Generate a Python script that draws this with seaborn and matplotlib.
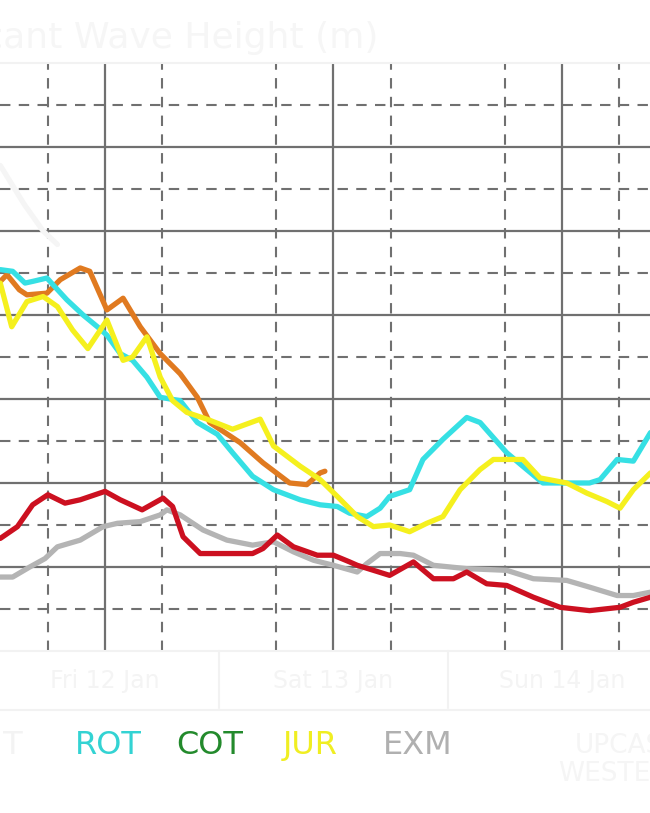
import numpy as np
import pandas as pd
import matplotlib
matplotlib.use("Agg")
import matplotlib.pyplot as plt
from matplotlib.lines import Line2D
import seaborn as sns

# hours relative to 12Z of the first visible day, wave height in metres
red_t = [-11.0, -9.2, -7.6, -6.0, -4.2, -2.6, 0.0, 1.6, 3.9, 6.1, 7.1, 8.2, 10.0, 13.4, 15.5, 16.6,
         18.1, 19.8, 22.3, 24.0, 25.7, 26.5, 29.9, 32.4, 34.5, 36.6, 38.0, 40.1, 42.2, 45.0, 47.8,
         50.9, 54.1, 55.5, 57.3]
red_h = [0.67, 0.74, 0.87, 0.93, 0.88, 0.90, 0.95, 0.90, 0.84, 0.91, 0.86, 0.68, 0.58, 0.58, 0.58, 0.61,
         0.69, 0.62, 0.57, 0.57, 0.53, 0.51, 0.45, 0.53, 0.43, 0.43, 0.47, 0.40, 0.39, 0.32, 0.26,
         0.24, 0.26, 0.29, 0.32]

gray_t = [-11.0, -9.7, -7.9, -6.3, -5.0, -2.6, -0.2, 1.3, 3.7, 5.8, 6.5, 7.9, 10.3, 12.8, 15.5, 17.7,
          19.8, 21.9, 24.0, 26.5, 27.5, 28.9, 31.0, 32.4, 34.5, 38.0, 42.2, 45.0, 48.5, 50.9, 53.8,
          55.5, 57.3]
gray_h = [0.44, 0.44, 0.50, 0.55, 0.62, 0.66, 0.74, 0.76, 0.77, 0.81, 0.84, 0.81, 0.72, 0.66, 0.63, 0.65,
          0.59, 0.54, 0.51, 0.47, 0.52, 0.58, 0.58, 0.57, 0.51, 0.49, 0.48, 0.43, 0.42, 0.38, 0.33,
          0.33, 0.35]

cyan_t = [-11.0, -9.7, -8.4, -7.6, -6.1, -5.3, -4.0, -2.3, -0.8, 0.2, 1.6, 2.9, 4.4, 5.8, 7.9, 9.7,
          11.8, 13.4, 15.5, 17.7, 20.5, 22.6, 24.4, 25.7, 27.5, 28.9, 29.9, 32.0, 33.4, 35.5, 38.0,
          39.4, 40.8, 42.2, 44.3, 46.0, 48.5, 50.9, 52.0, 53.8, 55.5, 57.3]
cyan_h = [2.27, 2.26, 2.19, 2.20, 2.22, 2.17, 2.09, 2.00, 1.93, 1.88, 1.77, 1.73, 1.63, 1.51, 1.49, 1.36,
          1.29, 1.18, 1.04, 0.96, 0.90, 0.87, 0.86, 0.82, 0.80, 0.85, 0.92, 0.96, 1.14, 1.26, 1.39,
          1.36, 1.27, 1.18, 1.08, 1.00, 1.00, 1.00, 1.02, 1.14, 1.13, 1.30]

yellow_t = [-11.0, -9.8, -8.2, -6.5, -5.0, -3.4, -1.8, -0.5, 0.2, 1.9, 2.9, 4.4, 5.8, 7.1, 8.6, 10.7,
            13.4, 16.3, 17.7, 20.5, 22.6, 24.4, 26.5, 28.2, 29.9, 32.0, 33.8, 35.5, 37.3, 39.4, 40.8,
            42.2, 43.9, 45.7, 48.5, 50.6, 52.7, 54.1, 55.5, 57.3]
yellow_h = [2.19, 1.93, 2.08, 2.11, 2.05, 1.91, 1.80, 1.91, 1.97, 1.73, 1.75, 1.87, 1.63, 1.49, 1.42, 1.38,
            1.32, 1.38, 1.22, 1.10, 1.02, 0.92, 0.80, 0.74, 0.75, 0.71, 0.76, 0.80, 0.96, 1.08, 1.14,
            1.14, 1.14, 1.03, 1.00, 0.94, 0.89, 0.85, 0.96, 1.06]

orange_t = [-11.0, -10.3, -9.0, -8.2, -6.1, -4.7, -2.6, -1.6, 0.2, 1.9, 3.7, 5.8, 7.9, 9.7, 11.0,
            14.2, 16.6, 19.4, 21.2, 22.6, 23.1]
orange_h = [2.20, 2.24, 2.15, 2.12, 2.13, 2.21, 2.28, 2.26, 2.03, 2.10, 1.93, 1.77, 1.65, 1.51, 1.36,
            1.24, 1.12, 1.00, 0.99, 1.06, 1.07]

faint_t = [-11.0, -8.5, -6.5, -5.0]
faint_h = [2.89, 2.66, 2.50, 2.42]

legend_names = ["LIT", "ROT", "COT", "JUR", "EXM"]
legend_colors = ["#f3f3f3", "#33d3d3", "#238a2c", "#f0ee22", "#b0b0b0"]
day_labels = ["Fri 12 Jan", "Sat 13 Jan", "Sun 14 Jan"]
day_hours = [0, 24, 48]

sns.set_style("white")
fig = plt.figure(figsize=(6.5, 8.13), dpi=100)
ax = fig.add_axes([0.0, 0.1993, 1.0, 0.7232])

series = [
    (faint_t, faint_h, "#f5f5f5"),
    (gray_t, gray_h, "#b4b4b4"),
    (red_t, red_h, "#cc1020"),
    (orange_t, orange_h, "#e07a20"),
    (cyan_t, cyan_h, "#36e0e4"),
    (yellow_t, yellow_h, "#f5f01e"),
]
for t, h, c in series:
    df = pd.DataFrame({"t": t, "h": h})
    sns.lineplot(data=df, x="t", y="h", color=c, linewidth=3.8, ax=ax, sort=False, zorder=3)

ax.set_xlim(-11.03, 57.25)
ax.set_ylim(0, 3.5)
ax.set_xticks(day_hours)
ax.set_xticks([-6, 6, 18, 30, 42, 54], minor=True)
ax.set_yticks([0.5, 1.0, 1.5, 2.0, 2.5, 3.0])
ax.set_yticks([0.25, 0.75, 1.25, 1.75, 2.25, 2.75, 3.25], minor=True)
ax.grid(which="major", color="#707070", linewidth=1.6, linestyle="-", zorder=1)
ax.grid(which="minor", color="#707070", linewidth=1.5, linestyle=(0, (5, 4)), zorder=1)
ax.set_axisbelow(True)
ax.tick_params(which="both", length=0, labelbottom=False, labelleft=False)
ax.set_xlabel("")
ax.set_ylabel("")
for side in ["left", "right"]:
    ax.spines[side].set_visible(False)
for side in ["top", "bottom"]:
    ax.spines[side].set_color("#f2f2f2")
    ax.spines[side].set_linewidth(1.5)

# title (cropped on the left like the reference)
fig.text(0.5815, 0.953, "Significant Wave Height (m)", ha="right", va="center",
         fontsize=26, color="#f6f6f6")

# day label band
for lbl, hr in zip(day_labels, day_hours):
    ax.text(hr, -0.18, lbl, ha="center", va="center", fontsize=17, color="#f4f4f4", clip_on=False)
for sep in [12, 36]:
    ax.plot([sep, sep], [0, -0.34], color="#f2f2f2", linewidth=1.5, clip_on=False)
fig.add_artist(Line2D([0, 1], [1 - 710 / 813, 1 - 710 / 813], color="#f2f2f2", linewidth=1.5))

# legend row
legend_x = [0.0, 0.166, 0.323, 0.477, 0.643]
for name, col, x in zip(legend_names, legend_colors, legend_x):
    fig.text(x, 1 - 745 / 813, name, ha="center", va="center", fontsize=23, color=col)
fig.text(0.965, 1 - 760 / 813, "UPCAST\nWESTERLY", ha="center", va="center", fontsize=19,
         color="#f5f5f5", linespacing=1.1)

fig.savefig("out.png", dpi=100)
